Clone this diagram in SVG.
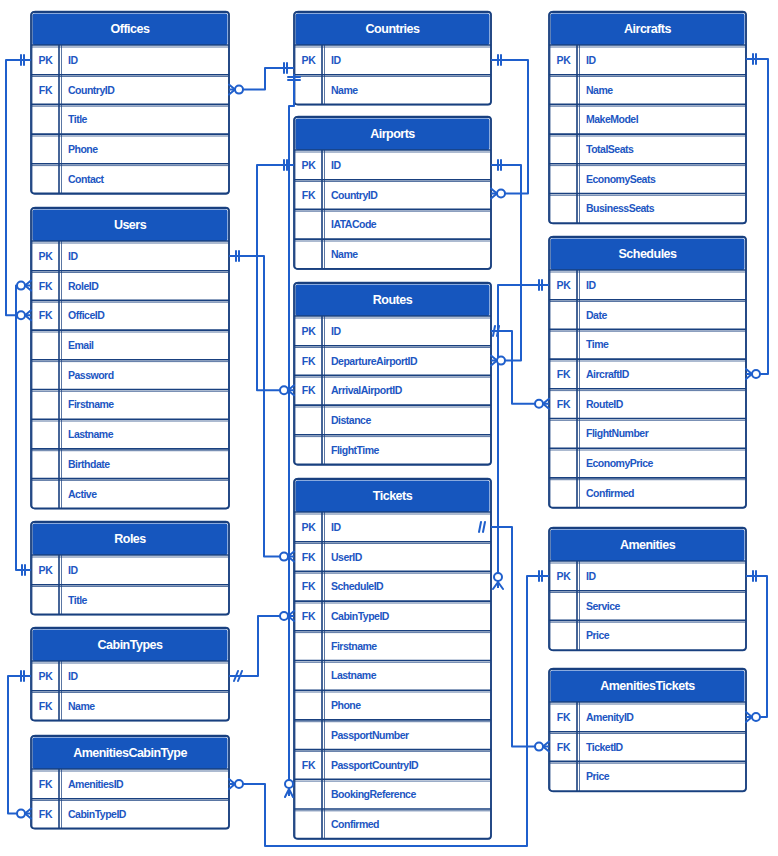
<svg xmlns="http://www.w3.org/2000/svg" width="778" height="856" viewBox="0 0 778 856">
<style>
.body{fill:#fff}
.hdr{fill:#1656be}
.frame{fill:none;stroke:#19407f;stroke-width:1.8}
.frame2{fill:none;stroke:#19407f;stroke-width:0.9;opacity:0.85}
.sep{fill:none;stroke:#19407f;stroke-width:1.6}
.sep2{fill:none;stroke:#19407f;stroke-width:0.9;opacity:0.8}
.title{font-family:"Liberation Sans",Arial,sans-serif;font-weight:bold;font-size:12.5px;letter-spacing:-0.5px;fill:#fff;text-anchor:middle}
.key{font-family:"Liberation Sans",Arial,sans-serif;font-weight:bold;font-size:10.5px;letter-spacing:-0.3px;fill:#1d56c2;text-anchor:middle}
.fld{font-family:"Liberation Sans",Arial,sans-serif;font-weight:bold;font-size:10.5px;letter-spacing:-0.5px;fill:#1d56c2}
.cn{fill:none;stroke:#1f5fcc;stroke-width:2;stroke-linejoin:round}
.mk{fill:none;stroke:#1f5fcc;stroke-width:2;stroke-linecap:round}
.ci{fill:#fff;stroke:#1f5fcc;stroke-width:2}
</style>

<g id="offices" transform="translate(31,12)">
<rect class="body" width="198" height="181.5" rx="3"/>
<rect class="hdr" x="1.5" y="1.5" width="195" height="31.5" rx="2"/>
<path class="sep" d="M0,33H198M0,62.7H198M0,92.4H198M0,122.1H198M0,151.8H198M28,33V181.5"/>
<path class="sep2" d="M1,35H197M1,64.5H197M1,94.2H197M1,124H197M1,153.6H197M30.5,33V181.5"/>
<rect class="frame" width="198" height="181.5" rx="3"/>
<rect class="frame2" x="1" y="-0.8" width="197" height="183" rx="3"/>
<text class="title" x="99" y="21">Offices</text>
<text class="key" x="14.5" y="51.9">PK</text><text class="fld" x="37" y="51.9">ID</text>
<text class="key" x="14.5" y="81.6">FK</text><text class="fld" x="37" y="81.6">CountryID</text>
<text class="fld" x="37" y="111.3">Title</text>
<text class="fld" x="37" y="141">Phone</text>
<text class="fld" x="37" y="170.7">Contact</text>
</g>

<g id="users" transform="translate(31,208)">
<rect class="body" width="198" height="300.3" rx="3"/>
<rect class="hdr" x="1.5" y="1.5" width="195" height="31.5" rx="2"/>
<path class="sep" d="M0,33H198M0,62.7H198M0,92.4H198M0,122.1H198M0,151.8H198M0,181.5H198M0,211.2H198M0,240.9H198M0,270.6H198M28,33V300.3"/>
<path class="sep2" d="M1,35H197M1,64.5H197M1,94.2H197M1,124H197M1,153.6H197M1,183.3H197M1,213H197M1,242.7H197M1,272.4H197M30.5,33V300.3"/>
<rect class="frame" width="198" height="300.3" rx="3"/>
<rect class="frame2" x="1" y="-0.8" width="197" height="301.8" rx="3"/>
<text class="title" x="99" y="21">Users</text>
<text class="key" x="14.5" y="51.9">PK</text><text class="fld" x="37" y="51.9">ID</text>
<text class="key" x="14.5" y="81.6">FK</text><text class="fld" x="37" y="81.6">RoleID</text>
<text class="key" x="14.5" y="111.3">FK</text><text class="fld" x="37" y="111.3">OfficeID</text>
<text class="fld" x="37" y="141">Email</text>
<text class="fld" x="37" y="170.7">Password</text>
<text class="fld" x="37" y="200.4">Firstname</text>
<text class="fld" x="37" y="230.1">Lastname</text>
<text class="fld" x="37" y="259.8">Birthdate</text>
<text class="fld" x="37" y="289.5">Active</text>
</g>

<g id="roles" transform="translate(31,522)">
<rect class="body" width="198" height="92.4" rx="3"/>
<rect class="hdr" x="1.5" y="1.5" width="195" height="31.5" rx="2"/>
<path class="sep" d="M0,33H198M0,62.7H198M28,33V92.4"/>
<path class="sep2" d="M1,35H197M1,64.5H197M30.5,33V92.4"/>
<rect class="frame" width="198" height="92.4" rx="3"/>
<rect class="frame2" x="1" y="-0.8" width="197" height="93.9" rx="3"/>
<text class="title" x="99" y="21">Roles</text>
<text class="key" x="14.5" y="51.9">PK</text><text class="fld" x="37" y="51.9">ID</text>
<text class="fld" x="37" y="81.6">Title</text>
</g>

<g id="cabintypes" transform="translate(31,628)">
<rect class="body" width="198" height="92.4" rx="3"/>
<rect class="hdr" x="1.5" y="1.5" width="195" height="31.5" rx="2"/>
<path class="sep" d="M0,33H198M0,62.7H198M28,33V92.4"/>
<path class="sep2" d="M1,35H197M1,64.5H197M30.5,33V92.4"/>
<rect class="frame" width="198" height="92.4" rx="3"/>
<rect class="frame2" x="1" y="-0.8" width="197" height="93.9" rx="3"/>
<text class="title" x="99" y="21">CabinTypes</text>
<text class="key" x="14.5" y="51.9">PK</text><text class="fld" x="37" y="51.9">ID</text>
<text class="key" x="14.5" y="81.6">FK</text><text class="fld" x="37" y="81.6">Name</text>
</g>

<g id="amenitiescabintype" transform="translate(31,736)">
<rect class="body" width="198" height="92.4" rx="3"/>
<rect class="hdr" x="1.5" y="1.5" width="195" height="31.5" rx="2"/>
<path class="sep" d="M0,33H198M0,62.7H198M28,33V92.4"/>
<path class="sep2" d="M1,35H197M1,64.5H197M30.5,33V92.4"/>
<rect class="frame" width="198" height="92.4" rx="3"/>
<rect class="frame2" x="1" y="-0.8" width="197" height="93.9" rx="3"/>
<text class="title" x="99" y="21">AmenitiesCabinType</text>
<text class="key" x="14.5" y="51.9">FK</text><text class="fld" x="37" y="51.9">AmenitiesID</text>
<text class="key" x="14.5" y="81.6">FK</text><text class="fld" x="37" y="81.6">CabinTypeID</text>
</g>

<g id="countries" transform="translate(294,12)">
<rect class="body" width="197" height="92.4" rx="3"/>
<rect class="hdr" x="1.5" y="1.5" width="194" height="31.5" rx="2"/>
<path class="sep" d="M0,33H197M0,62.7H197M28,33V92.4"/>
<path class="sep2" d="M1,35H196M1,64.5H196M30.5,33V92.4"/>
<rect class="frame" width="197" height="92.4" rx="3"/>
<rect class="frame2" x="1" y="-0.8" width="196" height="93.9" rx="3"/>
<text class="title" x="98.5" y="21">Countries</text>
<text class="key" x="14.5" y="51.9">PK</text><text class="fld" x="37" y="51.9">ID</text>
<text class="fld" x="37" y="81.6">Name</text>
</g>

<g id="airports" transform="translate(294,117)">
<rect class="body" width="197" height="151.8" rx="3"/>
<rect class="hdr" x="1.5" y="1.5" width="194" height="31.5" rx="2"/>
<path class="sep" d="M0,33H197M0,62.7H197M0,92.4H197M0,122.1H197M28,33V151.8"/>
<path class="sep2" d="M1,35H196M1,64.5H196M1,94.2H196M1,124H196M30.5,33V151.8"/>
<rect class="frame" width="197" height="151.8" rx="3"/>
<rect class="frame2" x="1" y="-0.8" width="196" height="153.3" rx="3"/>
<text class="title" x="98.5" y="21">Airports</text>
<text class="key" x="14.5" y="51.9">PK</text><text class="fld" x="37" y="51.9">ID</text>
<text class="key" x="14.5" y="81.6">FK</text><text class="fld" x="37" y="81.6">CountryID</text>
<text class="fld" x="37" y="111.3">IATACode</text>
<text class="fld" x="37" y="141">Name</text>
</g>

<g id="routes" transform="translate(294,283)">
<rect class="body" width="197" height="181.5" rx="3"/>
<rect class="hdr" x="1.5" y="1.5" width="194" height="31.5" rx="2"/>
<path class="sep" d="M0,33H197M0,62.7H197M0,92.4H197M0,122.1H197M0,151.8H197M28,33V181.5"/>
<path class="sep2" d="M1,35H196M1,64.5H196M1,94.2H196M1,124H196M1,153.6H196M30.5,33V181.5"/>
<rect class="frame" width="197" height="181.5" rx="3"/>
<rect class="frame2" x="1" y="-0.8" width="196" height="183" rx="3"/>
<text class="title" x="98.5" y="21">Routes</text>
<text class="key" x="14.5" y="51.9">PK</text><text class="fld" x="37" y="51.9">ID</text>
<text class="key" x="14.5" y="81.6">FK</text><text class="fld" x="37" y="81.6">DepartureAirportID</text>
<text class="key" x="14.5" y="111.3">FK</text><text class="fld" x="37" y="111.3">ArrivalAirportID</text>
<text class="fld" x="37" y="141">Distance</text>
<text class="fld" x="37" y="170.7">FlightTime</text>
</g>

<g id="tickets" transform="translate(294,479)">
<rect class="body" width="197" height="359.7" rx="3"/>
<rect class="hdr" x="1.5" y="1.5" width="194" height="31.5" rx="2"/>
<path class="sep" d="M0,33H197M0,62.7H197M0,92.4H197M0,122.1H197M0,151.8H197M0,181.5H197M0,211.2H197M0,240.9H197M0,270.6H197M0,300.3H197M0,330H197M28,33V359.7"/>
<path class="sep2" d="M1,35H196M1,64.5H196M1,94.2H196M1,124H196M1,153.6H196M1,183.3H196M1,213H196M1,242.7H196M1,272.4H196M1,302.1H196M1,331.8H196M30.5,33V359.7"/>
<rect class="frame" width="197" height="359.7" rx="3"/>
<rect class="frame2" x="1" y="-0.8" width="196" height="361.2" rx="3"/>
<text class="title" x="98.5" y="21">Tickets</text>
<text class="key" x="14.5" y="51.9">PK</text><text class="fld" x="37" y="51.9">ID</text>
<text class="key" x="14.5" y="81.6">FK</text><text class="fld" x="37" y="81.6">UserID</text>
<text class="key" x="14.5" y="111.3">FK</text><text class="fld" x="37" y="111.3">ScheduleID</text>
<text class="key" x="14.5" y="141">FK</text><text class="fld" x="37" y="141">CabinTypeID</text>
<text class="fld" x="37" y="170.7">Firstname</text>
<text class="fld" x="37" y="200.4">Lastname</text>
<text class="fld" x="37" y="230.1">Phone</text>
<text class="fld" x="37" y="259.8">PassportNumber</text>
<text class="key" x="14.5" y="289.5">FK</text><text class="fld" x="37" y="289.5">PassportCountryID</text>
<text class="fld" x="37" y="319.2">BookingReference</text>
<text class="fld" x="37" y="348.9">Confirmed</text>
</g>

<g id="aircrafts" transform="translate(549,12)">
<rect class="body" width="197" height="211.2" rx="3"/>
<rect class="hdr" x="1.5" y="1.5" width="194" height="31.5" rx="2"/>
<path class="sep" d="M0,33H197M0,62.7H197M0,92.4H197M0,122.1H197M0,151.8H197M0,181.5H197M28,33V211.2"/>
<path class="sep2" d="M1,35H196M1,64.5H196M1,94.2H196M1,124H196M1,153.6H196M1,183.3H196M30.5,33V211.2"/>
<rect class="frame" width="197" height="211.2" rx="3"/>
<rect class="frame2" x="1" y="-0.8" width="196" height="212.7" rx="3"/>
<text class="title" x="98.5" y="21">Aircrafts</text>
<text class="key" x="14.5" y="51.9">PK</text><text class="fld" x="37" y="51.9">ID</text>
<text class="fld" x="37" y="81.6">Name</text>
<text class="fld" x="37" y="111.3">MakeModel</text>
<text class="fld" x="37" y="141">TotalSeats</text>
<text class="fld" x="37" y="170.7">EconomySeats</text>
<text class="fld" x="37" y="200.4">BusinessSeats</text>
</g>

<g id="schedules" transform="translate(549,237)">
<rect class="body" width="197" height="270.6" rx="3"/>
<rect class="hdr" x="1.5" y="1.5" width="194" height="31.5" rx="2"/>
<path class="sep" d="M0,33H197M0,62.7H197M0,92.4H197M0,122.1H197M0,151.8H197M0,181.5H197M0,211.2H197M0,240.9H197M28,33V270.6"/>
<path class="sep2" d="M1,35H196M1,64.5H196M1,94.2H196M1,124H196M1,153.6H196M1,183.3H196M1,213H196M1,242.7H196M30.5,33V270.6"/>
<rect class="frame" width="197" height="270.6" rx="3"/>
<rect class="frame2" x="1" y="-0.8" width="196" height="272.1" rx="3"/>
<text class="title" x="98.5" y="21">Schedules</text>
<text class="key" x="14.5" y="51.9">PK</text><text class="fld" x="37" y="51.9">ID</text>
<text class="fld" x="37" y="81.6">Date</text>
<text class="fld" x="37" y="111.3">Time</text>
<text class="key" x="14.5" y="141">FK</text><text class="fld" x="37" y="141">AircraftID</text>
<text class="key" x="14.5" y="170.7">FK</text><text class="fld" x="37" y="170.7">RouteID</text>
<text class="fld" x="37" y="200.4">FlightNumber</text>
<text class="fld" x="37" y="230.1">EconomyPrice</text>
<text class="fld" x="37" y="259.8">Confirmed</text>
</g>

<g id="amenities" transform="translate(549,528)">
<rect class="body" width="197" height="122.1" rx="3"/>
<rect class="hdr" x="1.5" y="1.5" width="194" height="31.5" rx="2"/>
<path class="sep" d="M0,33H197M0,62.7H197M0,92.4H197M28,33V122.1"/>
<path class="sep2" d="M1,35H196M1,64.5H196M1,94.2H196M30.5,33V122.1"/>
<rect class="frame" width="197" height="122.1" rx="3"/>
<rect class="frame2" x="1" y="-0.8" width="196" height="123.6" rx="3"/>
<text class="title" x="98.5" y="21">Amenities</text>
<text class="key" x="14.5" y="51.9">PK</text><text class="fld" x="37" y="51.9">ID</text>
<text class="fld" x="37" y="81.6">Service</text>
<text class="fld" x="37" y="111.3">Price</text>
</g>

<g id="amenitiestickets" transform="translate(549,669)">
<rect class="body" width="197" height="122.1" rx="3"/>
<rect class="hdr" x="1.5" y="1.5" width="194" height="31.5" rx="2"/>
<path class="sep" d="M0,33H197M0,62.7H197M0,92.4H197M28,33V122.1"/>
<path class="sep2" d="M1,35H196M1,64.5H196M1,94.2H196M30.5,33V122.1"/>
<rect class="frame" width="197" height="122.1" rx="3"/>
<rect class="frame2" x="1" y="-0.8" width="196" height="123.6" rx="3"/>
<text class="title" x="98.5" y="21">AmenitiesTickets</text>
<text class="key" x="14.5" y="51.9">FK</text><text class="fld" x="37" y="51.9">AmenityID</text>
<text class="key" x="14.5" y="81.6">FK</text><text class="fld" x="37" y="81.6">TicketID</text>
<text class="fld" x="37" y="111.3">Price</text>
</g>

<g id="connectors">
<path class="cn" d="M31,60 H6 V315.3 H31"/>
<path class="cn" d="M31,285.6 H16 V570 H31"/>
<path class="cn" d="M229,89.6 H265 V68 H294"/>
<path class="cn" d="M491,60 H528 V193.5 H491"/>
<path class="cn" d="M491,165 H521 V360.6 H491"/>
<path class="cn" d="M294,165 H257 V390.3 H294"/>
<path class="cn" d="M229,256 H264 V556.6 H294"/>
<path class="cn" d="M549,285 H498 V588"/>
<path class="cn" d="M491,331 H512 V403.7 H549"/>
<path class="cn" d="M746,59 H768 V374 H746"/>
<path class="cn" d="M491,527 H512 V746.6 H549"/>
<path class="cn" d="M549,576 H527 V846 H265 V784 H229"/>
<path class="cn" d="M746,576 H767 V717 H746"/>
<path class="cn" d="M31,676 H8 V813.6 H31"/>
<path class="cn" d="M229,676 H258 V616 H294"/>
<path class="cn" d="M294,74 V106 H289 V796"/>
<path class="mk" d="M21,55V65 M24,55V65
M25,315.3L31,310.3 M25,315.3L31,320.3
M25,285.6L31,280.6 M25,285.6L31,290.6
M22,565V575 M25,565V575
M235,89.6L229,84.6 M235,89.6L229,94.6
M284,63V73 M287,63V73
M498,55V65 M501,55V65
M497,193.5L491,188.5 M497,193.5L491,198.5
M498,160V170 M501,160V170
M497,360.6L491,355.6 M497,360.6L491,365.6
M284,160V170 M287,160V170
M288,390.3L294,385.3 M288,390.3L294,395.3
M236,251V261 M239,251V261
M288,556.6L294,551.6 M288,556.6L294,561.6
M539,280V290 M542,280V290
M498,582L493,589 M498,582L503,589
M495,326L493,336 M499,326L497,336
M543,403.7L549,398.7 M543,403.7L549,408.7
M753,54V64 M756,54V64
M752,374L746,369 M752,374L746,379
M481,522L479,532 M485,522L483,532
M543,746.6L549,741.6 M543,746.6L549,751.6
M539,571V581 M542,571V581
M235,784L229,779 M235,784L229,789
M753,571V581 M756,571V581
M752,717L746,712 M752,717L746,722
M21,671V681 M24,671V681
M25,813.6L31,808.6 M25,813.6L31,818.6
M234,681L238,671 M238,681L242,671
M288,616L294,611 M288,616L294,621
M288,77H300 M288,80H300
M289,789L285,797 M289,789L293,797"/>
<circle class="ci" cx="21" cy="315.3" r="4"/>
<circle class="ci" cx="21" cy="285.6" r="4"/>
<circle class="ci" cx="239" cy="89.6" r="4"/>
<circle class="ci" cx="501" cy="193.5" r="4"/>
<circle class="ci" cx="501" cy="360.6" r="4"/>
<circle class="ci" cx="284" cy="390.3" r="4"/>
<circle class="ci" cx="284" cy="556.6" r="4"/>
<circle class="ci" cx="498" cy="577" r="4"/>
<circle class="ci" cx="539" cy="403.7" r="4"/>
<circle class="ci" cx="756" cy="374" r="4"/>
<circle class="ci" cx="539" cy="746.6" r="4"/>
<circle class="ci" cx="239" cy="784" r="4"/>
<circle class="ci" cx="756" cy="717" r="4"/>
<circle class="ci" cx="21" cy="813.6" r="4"/>
<circle class="ci" cx="284" cy="616" r="4"/>
<circle class="ci" cx="289" cy="784" r="4"/>
</g>
</svg>
